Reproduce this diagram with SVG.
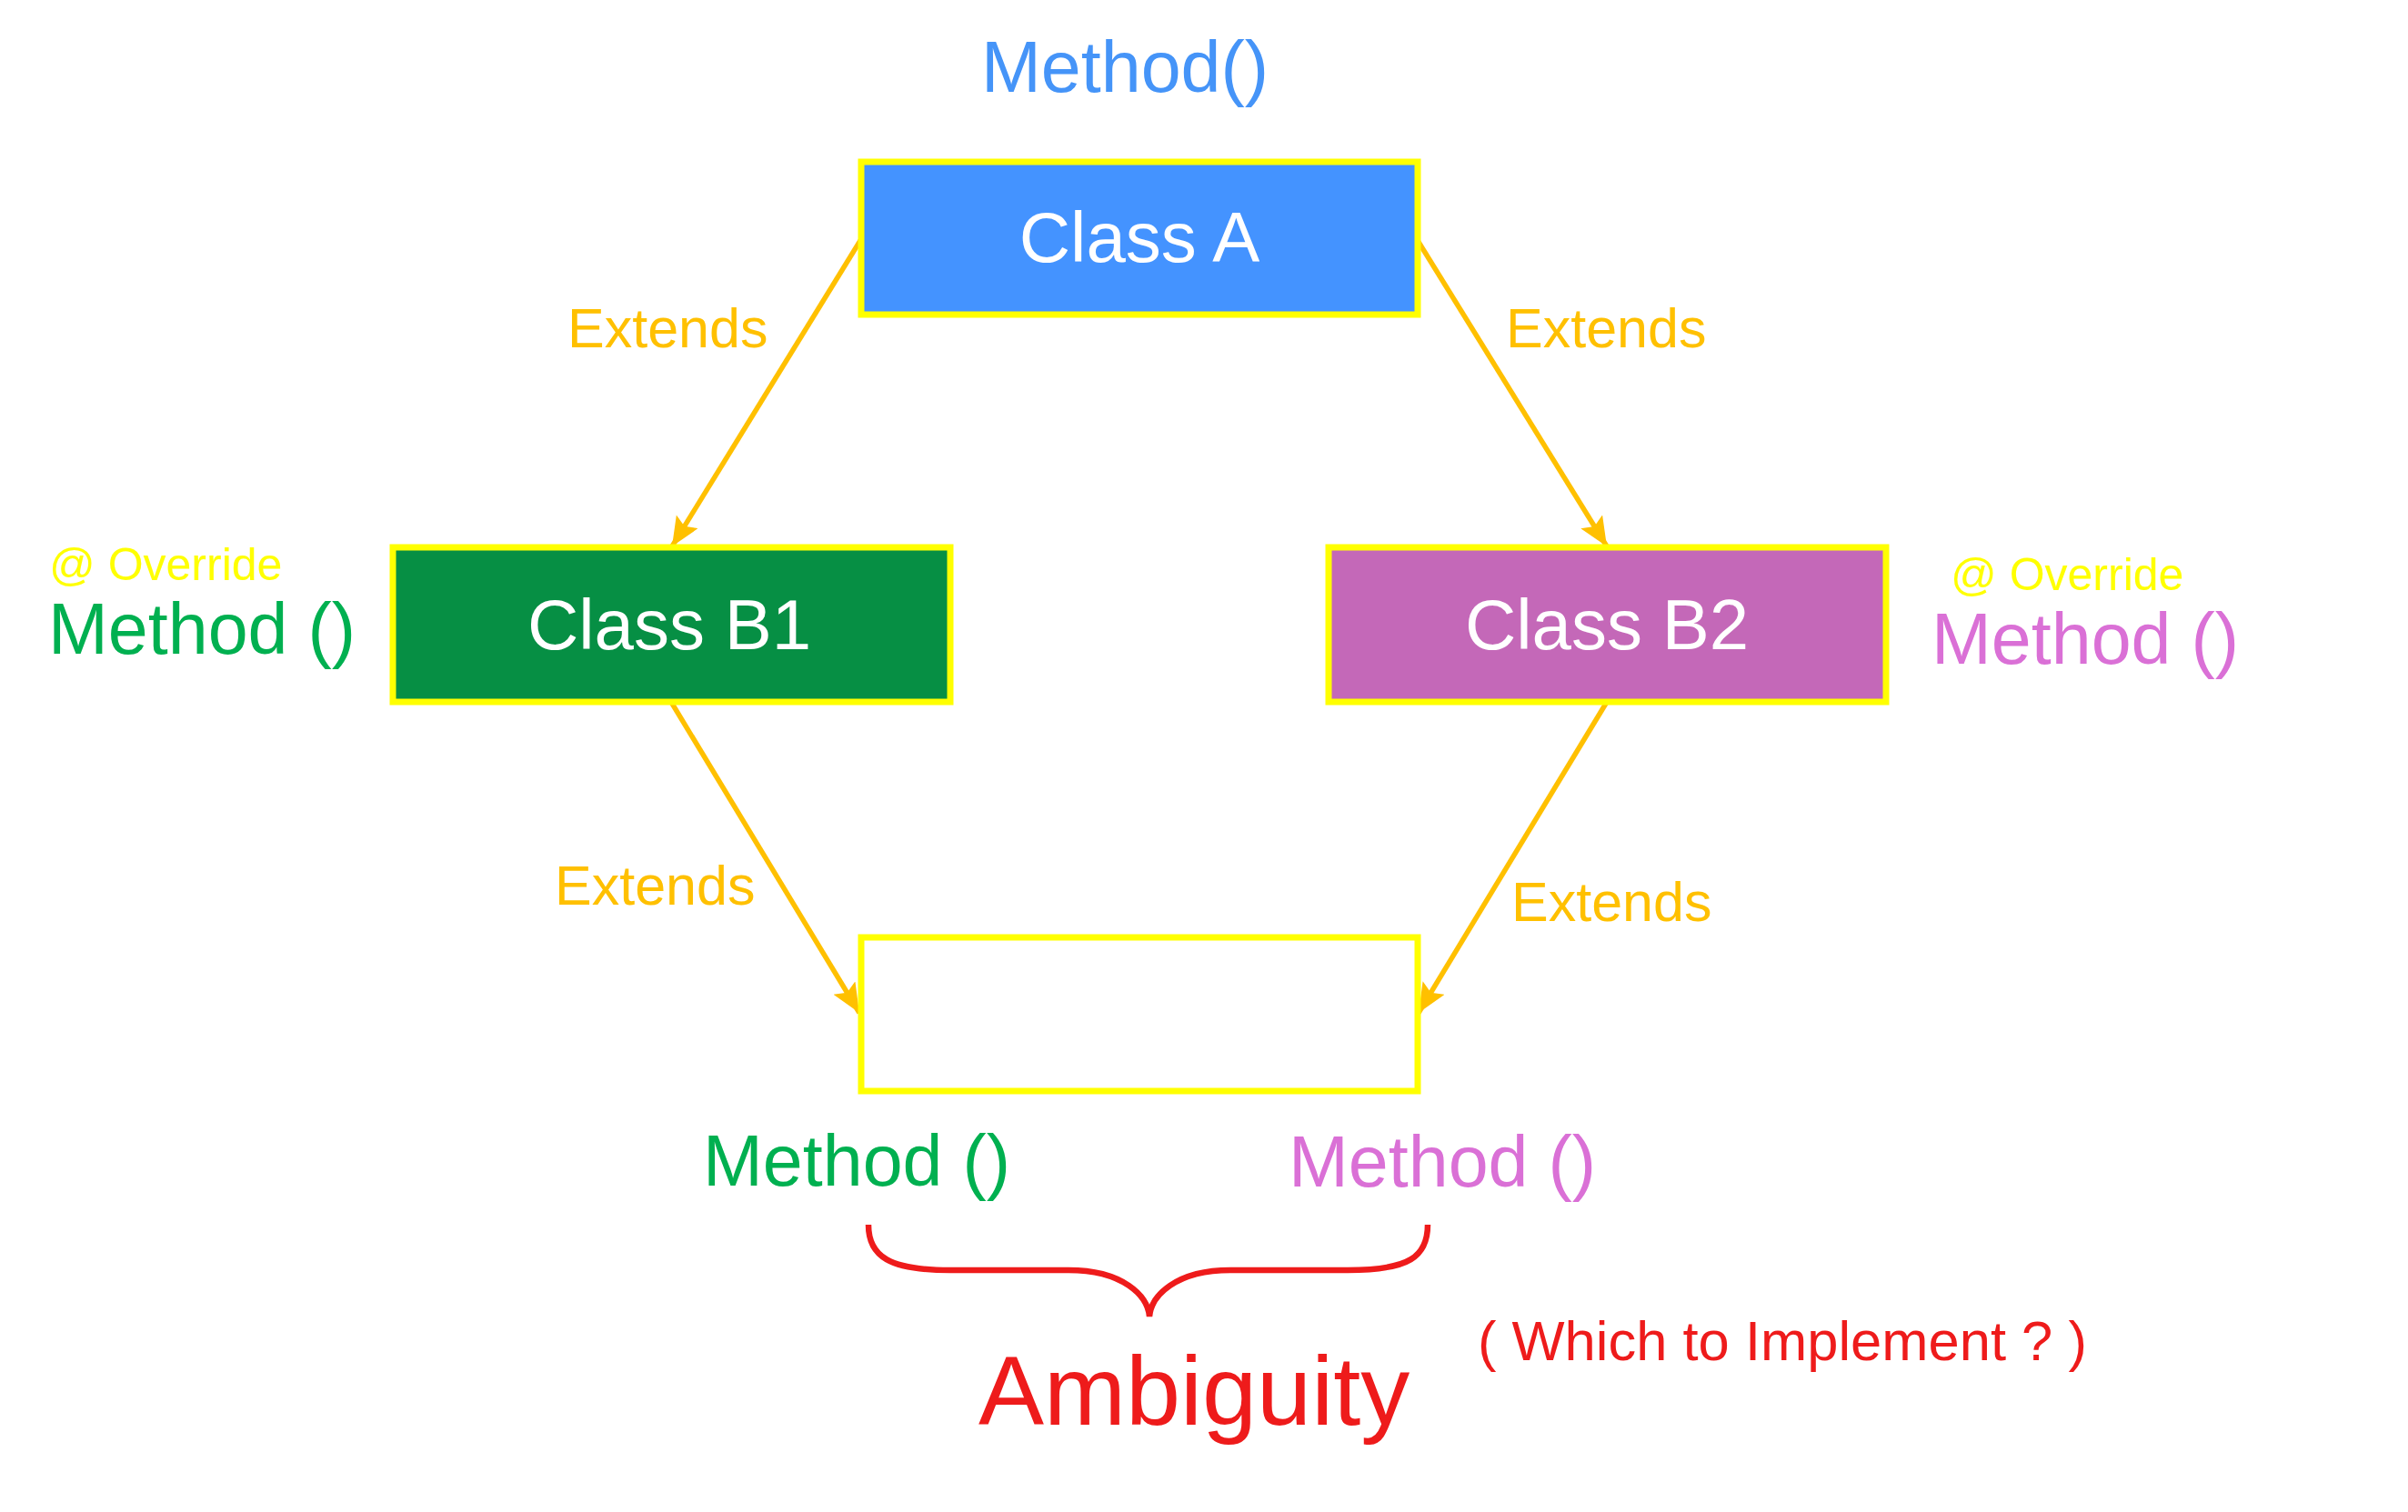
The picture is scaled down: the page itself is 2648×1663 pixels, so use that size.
<svg xmlns="http://www.w3.org/2000/svg" width="2648" height="1663" viewBox="0 0 2648 1663">
<defs>
<style>
text{font-family:"Liberation Sans",Arial,sans-serif}
.box{stroke:#FFFF00;stroke-width:7}
.cls{fill:#FFFFFF;font-size:78px;text-anchor:middle}
.ext{fill:#FFC000;font-size:61px}
.ovr{fill:#FFFF00;font-size:50px}
.m{font-size:79px}
.conn{stroke:#FFC000;stroke-width:5.5;fill:none;marker-end:url(#arr)}
</style>
<marker id="arr" markerUnits="userSpaceOnUse" markerWidth="34" markerHeight="30" refX="32" refY="14" orient="auto">
<path d="M0,0 L32,14 L0,28 L6,14 z" fill="#FFC000"/>
</marker>
</defs>
<rect width="2648" height="1663" fill="#FFFFFF"/>

<g id="connectors">
<line class="conn" x1="947" y1="263" x2="739" y2="601"/>
<line class="conn" x1="1558" y1="263" x2="1767" y2="601"/>
<line class="conn" x1="738" y1="772" x2="945" y2="1114"/>
<line class="conn" x1="1767" y1="772" x2="1560" y2="1114"/>
<text class="ext" x="624" y="382">Extends</text>
<text class="ext" x="1656" y="382">Extends</text>
<text class="ext" x="610" y="995">Extends</text>
<text class="ext" x="1662" y="1013">Extends</text>
</g>

<g id="classA">
<rect class="box" x="947" y="178" width="612" height="168" fill="#4493FF"/>
<text class="cls" x="1253" y="288">Class A</text>
<text class="m" x="1079" y="101" fill="#4594F8" font-size="80">Method()</text>
</g>

<g id="classB1">
<rect class="box" x="432" y="602" width="613" height="170" fill="#068F44"/>
<text class="cls" x="736" y="714">Class B1</text>
<text class="ovr" x="54" y="638">@ Override</text>
<text class="m" x="53" y="719" fill="#00B050">Method ()</text>
</g>

<g id="classB2">
<rect class="box" x="1461" y="602" width="613" height="170" fill="#C468B8"/>
<text class="cls" x="1767" y="714">Class B2</text>
<text class="ovr" x="2145" y="649">@ Override</text>
<text class="m" x="2124" y="730" fill="#DA70D6">Method ()</text>
</g>

<g id="classC">
<rect class="box" x="947" y="1031" width="612" height="169" fill="#FFFFFF"/>
<text class="m" x="773" y="1304" fill="#00B050">Method ()</text>
<text class="m" x="1417" y="1305" fill="#DA70D6">Method ()</text>
</g>

<g id="ambiguity">
<path d="M955,1347 C955,1382 978,1397 1045,1397 L1175,1397 C1235,1397 1262,1425 1264,1448 C1266,1425 1293,1397 1353,1397 L1482,1397 C1550,1397 1570,1382 1570,1347" fill="none" stroke="#EE1B1B" stroke-width="6.5"/>
<text x="1076" y="1567" fill="#EE1B1B" font-size="108">Ambiguity</text>
<text x="1625" y="1496" fill="#EE1B1B" font-size="61.5">( Which to Implement ? )</text>
</g>
</svg>
